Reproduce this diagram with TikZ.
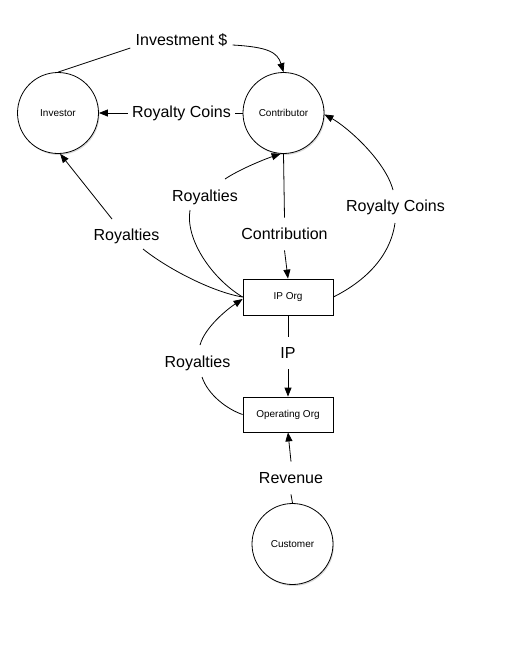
\documentclass[tikz,border=0pt]{standalone}
\usepackage{fontspec}
\setmainfont{Liberation Sans}
\usetikzlibrary{arrows.meta,shadows}
\begin{document}
\begin{tikzpicture}[x=1pt,y=-1pt,
  every path/.style={line width=0.8pt},
  circ/.style={circle,draw,fill=white,minimum size=81pt,inner sep=0pt,
    font=\fontsize{10}{12}\selectfont,
    drop shadow={shadow xshift=1pt,shadow yshift=-1.5pt,opacity=0.3}},
  box/.style={rectangle,draw,fill=white,minimum width=90pt,minimum height=36pt,inner sep=0pt,
    font=\fontsize{10}{12}\selectfont},
  lab/.style={inner xsep=4pt,inner ysep=0pt,minimum height=32pt,font=\fontsize{16}{19}\selectfont},
  arr/.style={-{Triangle[length=9pt,width=7pt]}}]
\useasboundingbox (0,0) rectangle (523,657);
% nodes
\node[circ] (inv) at (58,113) {Investor};
\node[circ] (con) at (283.5,113) {Contributor};
\node[box] (ip) at (288,297) {IP Org};
\node[box,minimum height=35pt] (op) at (288,414.5) {Operating Org};
\node[circ] (cus) at (292.5,544) {Customer};
% labels
\node[lab] (lInv) at (181.5,40) {Investment \$};
\node[lab] (lRC1) at (181.5,113) {Royalty Coins};
\node[lab] (lR1) at (126.5,236) {Royalties};
\node[lab] (lR2) at (205,197) {Royalties};
\node[lab] (lCon) at (284.5,234) {Contribution};
\node[lab] (lRC2) at (395.5,207) {Royalty Coins};
\node[lab] (lIP) at (288,353) {IP};
\node[lab] (lR3) at (197.5,363) {Royalties};
\node[lab] (lRev) at (291,478) {Revenue};
% Investment
\draw (inv.north) -- ([shift={(-1,8)}]lInv.west);
\draw[arr] ([shift={(1,5)}]lInv.east) .. controls +(35,2) and +(-6,-20) .. (con.north);
% Royalty coins top
\draw (con.west) -- (lRC1.east);
\draw[arr] (lRC1.west) -- (inv.east);
% Royalties left
\draw (ip.west) .. controls +(-30,-5) and +(25,20) .. ([shift={(16.5,13)}]lR1.center);
\draw[arr] ([shift={(-14.5,-17)}]lR1.center) -- (inv.-87);
% Royalties middle
\draw (ip.west) .. controls +(-30,-18) and +(-5,30) .. ([shift={(-15,13)}]lR2.center);
\draw[arr] ([shift={(20,-18)}]lR2.center) .. controls +(15,-10) and +(-15,5) .. (con.-94);
% Contribution
\draw (con.south) -- (lCon.north);
\draw[arr] (lCon.south) -- (ip.north);
% Royalty coins right
\draw (ip.east) .. controls +(30,-15) and +(-5,35) .. ([shift={(-0.5,16)}]lRC2.center);
\draw[arr] ([shift={(-2.5,-17)}]lRC2.center) .. controls +(-8,-30) and +(22,12) .. (con.-2);
% IP
\draw (ip.south) -- (lIP.north);
\draw[arr] (lIP.south) -- (op.north);
% Royalties lower
\draw (op.west) .. controls +(-15,-5) and +(6,18) .. ([shift={(4.5,14)}]lR3.center);
\draw[arr] ([shift={(2.5,-18)}]lR3.center) .. controls +(5,-18) and +(-15,10) .. ([shift={(0,2)}]ip.west);
% Revenue
\draw (cus.north) -- (lRev.south);
\draw[arr] (lRev.north) -- (op.south);
\end{tikzpicture}
\end{document}
